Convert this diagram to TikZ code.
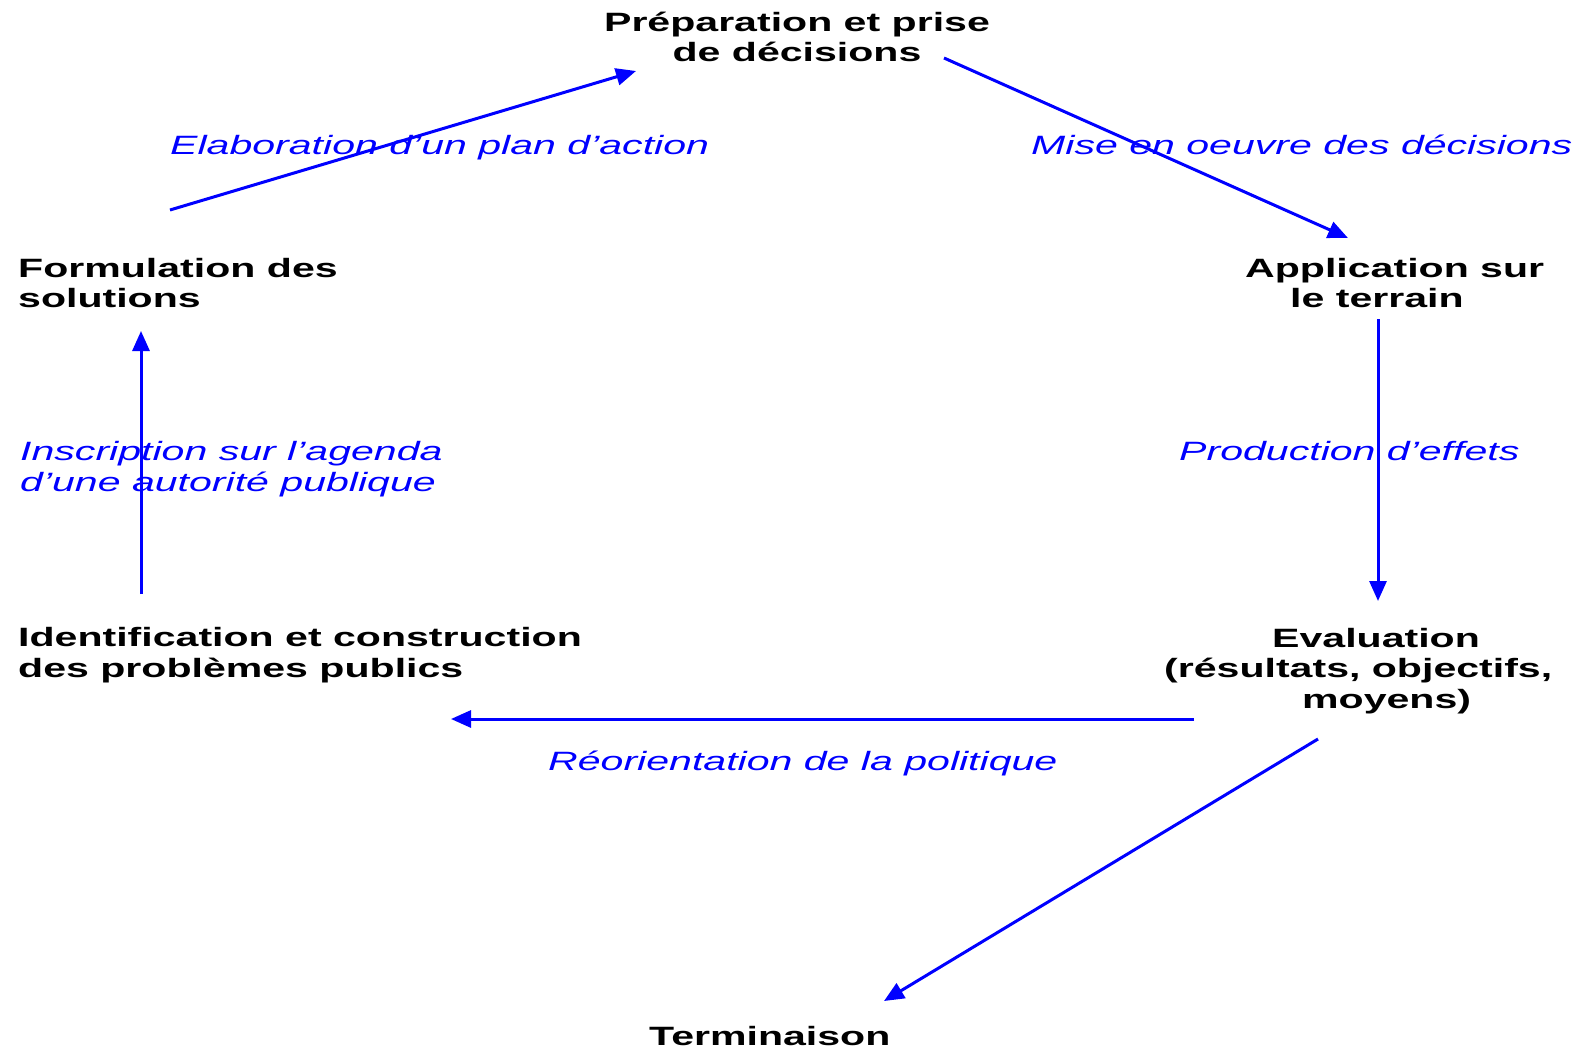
\documentclass[tikz,border=0pt]{standalone}
\usepackage{fontspec}
\usetikzlibrary{arrows.meta}
\newfontfamily\arialx{Liberation Sans}[FakeStretch=1.55]
\definecolor{arrblue}{RGB}{0,0,255}
\begin{document}
\begin{tikzpicture}[x=1pt,y=-1pt,
  stage/.style={inner sep=0pt,font=\arialx\bfseries\fontsize{26.5}{30.5}\selectfont,text=black,align=left,anchor=base west},
  lab/.style={inner sep=0pt,font=\arialx\itshape\fontsize{26.5}{30.5}\selectfont,text=arrblue,align=left,anchor=base west},
  flow/.style={draw=arrblue,line width=3pt,-{Triangle[length=20pt,width=17pt]}}]
\useasboundingbox (0,0) rectangle (1583,1051);
% stages (base = baseline of last line)
\node[stage,anchor=base,align=center] (prep) at (797,62) {Préparation et prise\\de décisions};
\node[stage] (form) at (18,308) {Formulation des\\solutions};
\node[stage] (appl) at (1245,308) {Application sur\\\hspace*{45pt}le terrain};
\node[stage] (ident) at (18,677) {Identification et construction\\des problèmes publics};
\node[stage] (eval) at (1164,708) {\hspace*{108pt}Evaluation\\(résultats, objectifs,\\\hspace*{138pt}moyens)};
\node[stage] (term) at (649,1045) {Terminaison};
% labels
\node[lab] (l1) at (170,155) {Elaboration d’un plan d’action};
\node[lab] (l2) at (1031,155) {Mise en oeuvre des décisions};
\node[lab] (l3) at (20,491) {Inscription sur l’agenda\\d’une autorité publique};
\node[lab] (l4) at (1179,460) {Production d’effets};
\node[lab] (l5) at (548,770) {Réorientation de la politique};
% arrow end points
\coordinate (a1s) at (170,210); \coordinate (a1e) at (636,71);
\coordinate (a2s) at (944,58);  \coordinate (a2e) at (1348,238);
\coordinate (a3s) at (1378,319); \coordinate (a3e) at (1378,601);
\coordinate (a4s) at (1194,719); \coordinate (a4e) at (451,719);
\coordinate (a5s) at (1318,739); \coordinate (a5e) at (884,1001);
\coordinate (a6s) at (141,594); \coordinate (a6e) at (141,331);
\draw[flow] (a1s) -- (a1e);
\draw[flow] (a2s) -- (a2e);
\draw[flow] (a3s) -- (a3e);
\draw[flow] (a4s) -- (a4e);
\draw[flow] (a5s) -- (a5e);
\draw[flow] (a6s) -- (a6e);
\end{tikzpicture}
\end{document}
